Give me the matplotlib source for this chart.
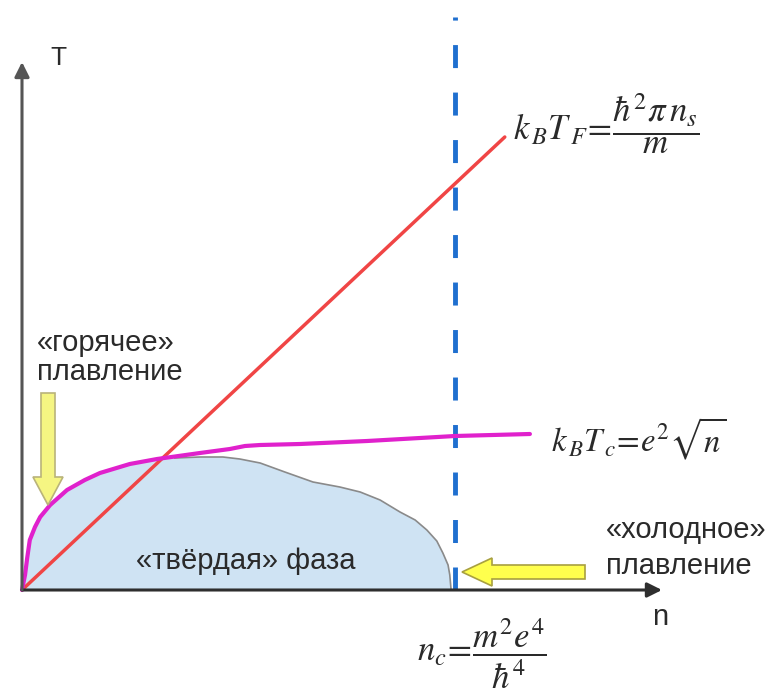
import matplotlib
matplotlib.use("Agg")
import matplotlib.pyplot as plt
from matplotlib.patches import Polygon

plt.rcParams['font.family'] = ['Liberation Sans', 'DejaVu Sans']
plt.rcParams['mathtext.fontset'] = 'stix'

# ---- data (density in units of n_c, temperature in arbitrary units) ----
n_c = 1.0

# Fermi temperature: straight line k_B T_F ~ n
fermi_n = [0.0, 1.115]
fermi_T = [0.0, 4.53]

# Coulomb temperature k_B T_c ~ sqrt(n)
coul_n = [0.0, 0.007, 0.012, 0.018, 0.030, 0.042, 0.065, 0.104, 0.145, 0.180,
          0.249, 0.312, 0.411, 0.480, 0.515, 0.550, 0.642, 0.797, 0.919, 1.000, 1.173]
coul_T = [0.0, 0.15, 0.32, 0.50, 0.63, 0.73, 0.85, 1.00, 1.10, 1.17,
          1.26, 1.31, 1.37, 1.41, 1.44, 1.45, 1.46, 1.49, 1.52, 1.54, 1.56]

# upper boundary of the solid phase after it leaves the T_c curve
solid_n = [0.353, 0.411, 0.464, 0.503, 0.550, 0.607, 0.672, 0.734, 0.781, 0.827,
           0.873, 0.908, 0.935, 0.958, 0.972, 0.984, 0.988, 0.991]
solid_T = [1.32, 1.33, 1.33, 1.31, 1.27, 1.18, 1.08, 1.03, 0.98, 0.90,
           0.78, 0.70, 0.60, 0.49, 0.37, 0.25, 0.15, 0.0]

n_axis_end = 1.478
T_axis_end = 5.28
T_dash_top = 5.73

W, H = 770, 693
fig = plt.figure(figsize=(W / 100, H / 100), dpi=100)
ax = fig.add_axes([0, 0, 1, 1])
ax.set_xlim(-0.0508, 1.7275)
ax.set_ylim(-1.03, 5.90)
ax.axis('off')


def P(x, y):
    """pixel position -> figure fraction"""
    return x / W, 1 - y / H


# solid phase region: under T_c curve until it meets the hump, then the hump
left_n = [n for n in coul_n if n <= 0.32]
left_T = coul_T[:len(left_n)]
region_n = [0.0] + left_n + solid_n
region_T = [0.0] + left_T + solid_T
ax.fill(region_n, region_T, facecolor='#cfe3f3', edgecolor='none', zorder=1)
ax.plot(solid_n, solid_T, color='#8a8a8a', lw=1.2, zorder=2)

# axes with arrows
ax_col = '#2e2e2e'
ax.annotate('', xy=(n_axis_end, 0), xytext=(0, 0),
            arrowprops=dict(arrowstyle='-|>', color=ax_col, lw=2.2,
                            mutation_scale=22, shrinkA=0, shrinkB=0), zorder=5)
ax.annotate('', xy=(0, T_axis_end), xytext=(0, 0),
            arrowprops=dict(arrowstyle='-|>', color='#555555', lw=2.2,
                            mutation_scale=22, shrinkA=0, shrinkB=0), zorder=5)

# critical density
ax.plot([n_c, n_c], [0, T_dash_top], color='#1f6fcf', lw=3.5,
        dashes=(4.73, 5.04), zorder=3)

# T_F and T_c curves
ax.plot(fermi_n, fermi_T, color='#f04545', lw=2.5, zorder=4,
        solid_capstyle='round')
ax.plot(coul_n, coul_T, color='#e021cc', lw=3.0, zorder=4,
        solid_capstyle='round', solid_joinstyle='round')

# yellow arrows
down_arrow = [(41, 393), (55, 393), (55, 477), (63, 477), (48, 505), (33, 477), (41, 477)]
left_arrow = [(585, 565), (585, 579), (492, 579), (492, 586), (462, 572), (492, 558), (492, 565)]
fig.patches.append(Polygon([P(*p) for p in down_arrow], closed=True,
                           transform=fig.transFigure, facecolor='#f5f582',
                           edgecolor='#b9b37a', lw=1.2, zorder=6))
fig.patches.append(Polygon([P(*p) for p in left_arrow], closed=True,
                           transform=fig.transFigure, facecolor='#ffff4d',
                           edgecolor='#a8a040', lw=1.2, zorder=6))

# labels
tc = '#2a2a2a'
fs = 21
fig.text(*P(50, 58), 'T', fontsize=19, color=tc, ha='left', va='center')
fig.text(*P(652, 617), 'n', fontsize=fs, color=tc, ha='left', va='center')
fig.text(*P(37, 343), '«горячее»', fontsize=fs, color=tc, ha='left', va='center')
fig.text(*P(37, 372), 'плавление', fontsize=fs, color=tc, ha='left', va='center')
fig.text(*P(136, 561), '«твёрдая» фаза', fontsize=fs, color=tc, ha='left', va='center')
fig.text(*P(606, 530), '«холодное»', fontsize=fs, color=tc, ha='left', va='center')
fig.text(*P(606, 566), 'плавление', fontsize=fs, color=tc, ha='left', va='center')

# formulas
fig.text(*P(513, 124), r'$k_{\,B}T_{\,F}\!=\!\dfrac{\hbar^2\pi\,n_s}{m}$',
         fontsize=25, color=tc, ha='left', va='center')
fig.text(*P(551, 439), r'$k_{\,B}T_{\,c}\!=\!e^2\sqrt{n}$',
         fontsize=23.5, color=tc, ha='left', va='center')
fig.text(*P(417, 654), r'$n_c\!=\!\dfrac{m^2e^4}{\hbar^4}$',
         fontsize=25, color=tc, ha='left', va='center')

fig.savefig('out.png', dpi=100)
